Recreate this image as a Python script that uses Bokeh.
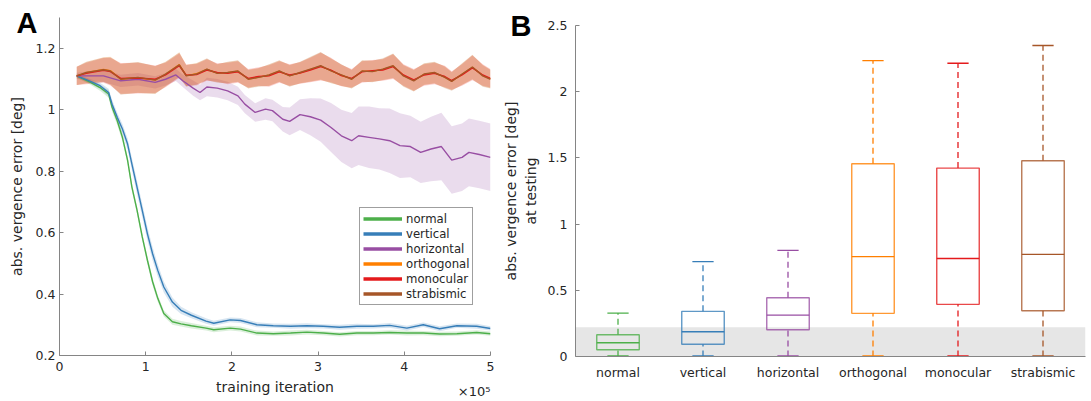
from bokeh.plotting import figure
from bokeh.layouts import row
from bokeh.models import (Legend, LegendItem, FixedTicker, LinearAxis, BoxAnnotation,
                          ColumnDataSource, Range1d)
from bokeh.transform import dodge
from bokeh.embed import file_html
from bokeh.resources import INLINE

# ---------------- Panel A data (training iteration in units of 1e5) ----------------
series_names = ["normal", "vertical", "horizontal", "orthogonal", "monocular", "strabismic"]
series_colors = ["#4daf4a", "#377eb8", "#984ea3", "#ff7f00", "#e41a1c", "#a65628"]

drop_x = [0.20, 0.36, 0.47, 0.57, 0.61, 0.67, 0.73, 0.79, 0.84, 0.90,
          0.96, 1.02, 1.08, 1.14, 1.21, 1.31, 1.41, 1.53, 1.70, 1.79,
          1.98, 2.10, 2.29, 2.48, 2.68, 2.87, 3.06, 3.25, 3.45, 3.64,
          3.83, 4.03, 4.22, 4.41, 4.61, 4.84, 5.00]
normal_y = [1.110, 1.089, 1.072, 1.051, 1.008, 0.964, 0.910, 0.835, 0.748, 0.672,
            0.586, 0.510, 0.440, 0.386, 0.337, 0.310, 0.303, 0.297, 0.289, 0.284,
            0.289, 0.286, 0.273, 0.271, 0.273, 0.276, 0.273, 0.269, 0.273, 0.273,
            0.275, 0.273, 0.273, 0.270, 0.271, 0.275, 0.271]
normal_sd = [0.006, 0.008, 0.010, 0.012, 0.014, 0.014, 0.013, 0.012, 0.012, 0.012,
             0.012, 0.012, 0.012, 0.011, 0.010, 0.010, 0.009, 0.009, 0.008, 0.008,
             0.008, 0.008, 0.008, 0.007, 0.008, 0.008, 0.007, 0.007, 0.007, 0.007,
             0.007, 0.008, 0.007, 0.007, 0.007, 0.007, 0.007]
vertical_y = [1.110, 1.092, 1.078, 1.056, 1.018, 0.975, 0.937, 0.888, 0.823, 0.747,
              0.672, 0.596, 0.531, 0.477, 0.423, 0.374, 0.347, 0.331, 0.312, 0.305,
              0.316, 0.314, 0.300, 0.297, 0.295, 0.297, 0.295, 0.292, 0.295, 0.295,
              0.298, 0.289, 0.300, 0.287, 0.297, 0.295, 0.288]
vertical_sd = [0.006, 0.008, 0.010, 0.012, 0.014, 0.015, 0.016, 0.018, 0.020, 0.022,
               0.022, 0.022, 0.022, 0.020, 0.018, 0.015, 0.012, 0.010, 0.009, 0.008,
               0.008, 0.008, 0.008, 0.007, 0.008, 0.008, 0.007, 0.008, 0.008, 0.007,
               0.008, 0.008, 0.007, 0.008, 0.007, 0.008, 0.007]

horiz_x = [0.20, 0.51, 0.71, 0.91, 1.11, 1.23, 1.35, 1.43, 1.55, 1.63,
           1.71, 1.83, 1.95, 2.07, 2.15, 2.27, 2.39, 2.47, 2.59, 2.67,
           2.79, 2.91, 3.03, 3.15, 3.27, 3.39, 3.47, 3.59, 3.71, 3.83,
           3.95, 4.07, 4.19, 4.31, 4.43, 4.55, 4.67, 4.75, 4.87, 5.00]
horizontal_y = [1.110, 1.110, 1.094, 1.099, 1.089, 1.099, 1.113, 1.094, 1.070, 1.056,
                1.074, 1.070, 1.061, 1.045, 1.018, 0.991, 1.002, 0.997, 0.969, 0.962,
                0.984, 0.977, 0.966, 0.942, 0.915, 0.899, 0.915, 0.910, 0.905, 0.899,
                0.883, 0.880, 0.861, 0.872, 0.880, 0.836, 0.845, 0.861, 0.854, 0.845]
horizontal_sd = [0.010, 0.020, 0.020, 0.020, 0.020, 0.020, 0.020, 0.020, 0.025, 0.025,
                 0.030, 0.030, 0.030, 0.030, 0.030, 0.030, 0.035, 0.035, 0.040, 0.045,
                 0.050, 0.060, 0.070, 0.080, 0.085, 0.090, 0.095, 0.100, 0.100, 0.105,
                 0.105, 0.100, 0.100, 0.105, 0.110, 0.110, 0.110, 0.110, 0.110, 0.110]

flat_x = [0.20, 0.31, 0.51, 0.59, 0.71, 0.91, 1.11, 1.23, 1.39, 1.47,
          1.59, 1.71, 1.83, 1.95, 2.07, 2.19, 2.31, 2.43, 2.55, 2.67,
          2.79, 2.91, 3.03, 3.15, 3.27, 3.39, 3.51, 3.63, 3.75, 3.87,
          3.99, 4.11, 4.23, 4.35, 4.47, 4.55, 4.67, 4.79, 4.91, 5.00]
orthogonal_y = [1.110, 1.120, 1.131, 1.127, 1.100, 1.104, 1.097, 1.115, 1.147, 1.111,
                1.117, 1.131, 1.119, 1.120, 1.125, 1.100, 1.106, 1.112, 1.125, 1.111,
                1.120, 1.131, 1.142, 1.127, 1.112, 1.100, 1.125, 1.125, 1.131, 1.142,
                1.111, 1.095, 1.115, 1.120, 1.106, 1.093, 1.115, 1.138, 1.111, 1.100]
monocular_y = [1.110, 1.118, 1.128, 1.124, 1.102, 1.103, 1.099, 1.113, 1.143, 1.112,
               1.114, 1.129, 1.121, 1.118, 1.123, 1.102, 1.108, 1.110, 1.123, 1.113,
               1.119, 1.129, 1.140, 1.129, 1.111, 1.102, 1.123, 1.127, 1.129, 1.140,
               1.113, 1.097, 1.113, 1.118, 1.108, 1.095, 1.113, 1.136, 1.113, 1.102]
strabismic_y = [1.110, 1.121, 1.130, 1.126, 1.099, 1.105, 1.096, 1.116, 1.146, 1.110,
                1.116, 1.132, 1.118, 1.121, 1.126, 1.099, 1.105, 1.113, 1.126, 1.110,
                1.121, 1.132, 1.143, 1.126, 1.113, 1.099, 1.126, 1.124, 1.132, 1.143,
                1.110, 1.094, 1.116, 1.121, 1.105, 1.092, 1.116, 1.139, 1.110, 1.099]
flat_sd = [0.030, 0.035, 0.040, 0.045, 0.050, 0.050, 0.045, 0.040, 0.040, 0.035,
           0.035, 0.035, 0.030, 0.035, 0.035, 0.030, 0.030, 0.035, 0.035, 0.035,
           0.035, 0.040, 0.045, 0.040, 0.035, 0.030, 0.035, 0.035, 0.035, 0.040,
           0.035, 0.035, 0.035, 0.035, 0.035, 0.030, 0.035, 0.040, 0.035, 0.030]

a_xticks = [0, 1, 2, 3, 4, 5]
a_xtick_labels = ["0", "1", "2", "3", "4", "5"]
a_yticks = [0.2, 0.4, 0.6, 0.8, 1.0, 1.2]
a_ytick_labels = ["0.2", "0.4", "0.6", "0.8", "1", "1.2"]
a_multiplier = "×10⁵"

# ---------------- Panel B data ----------------
categories = ["normal", "vertical", "horizontal", "orthogonal", "monocular", "strabismic"]
whisker_low = [0.0, 0.0, 0.0, 0.0, 0.0, 0.0]
quart1 = [0.051, 0.093, 0.202, 0.326, 0.394, 0.346]
median = [0.104, 0.187, 0.313, 0.755, 0.740, 0.772]
quart3 = [0.164, 0.341, 0.444, 1.456, 1.423, 1.478]
whisker_high = [0.328, 0.717, 0.802, 2.235, 2.215, 2.349]
threshold = 0.22
b_yticks = [0, 0.5, 1, 1.5, 2, 2.5]
b_ytick_labels = ["0", "0.5", "1", "1.5", "2", "2.5"]

FONT = "DejaVu Sans"
TXT = "#262626"
AXC = "#858585"


def style_axis(ax, ticks_in=True):
    ax.axis_line_color = AXC
    ax.axis_line_width = 1
    ax.major_tick_line_color = AXC
    ax.major_tick_in = 4 if ticks_in else 0
    ax.major_tick_out = 0
    ax.minor_tick_line_color = None
    ax.major_label_text_font = FONT
    ax.major_label_text_font_size = "12.5px"
    ax.major_label_text_color = TXT
    ax.axis_label_text_font = FONT
    ax.axis_label_text_font_size = "14px"
    ax.axis_label_text_font_style = "normal"
    ax.axis_label_text_color = TXT


def text_axis(text, at, standoff, font, size, style, color):
    """An axis that carries a single tick label only (panel letters, multiplier)."""
    return LinearAxis(ticker=FixedTicker(ticks=[at]), major_label_overrides={at: text},
                      axis_line_color=None, major_tick_line_color=None,
                      minor_tick_line_color=None, major_tick_in=0, major_tick_out=0,
                      minor_tick_in=0, minor_tick_out=0,
                      major_label_standoff=standoff, major_label_text_font=font,
                      major_label_text_font_size=size, major_label_text_font_style=style,
                      major_label_text_color=color)


# ---------------- Panel A ----------------
pa = figure(width=495, height=401, output_backend="svg", toolbar_location=None, title=None,
            frame_align=False,
            x_range=Range1d(0, 5), y_range=Range1d(0.2, 1.3),
            min_border_left=59, min_border_right=5, min_border_top=17, min_border_bottom=46)
pa.grid.visible = False
pa.outline_line_color = None

data_a = [
    (drop_x, normal_y, normal_sd),
    (drop_x, vertical_y, vertical_sd),
    (horiz_x, horizontal_y, horizontal_sd),
    (flat_x, orthogonal_y, flat_sd),
    (flat_x, monocular_y, flat_sd),
    (flat_x, strabismic_y, flat_sd),
]
for (xs, ys, sd), c in zip(data_a, series_colors):
    lo = [y - s for y, s in zip(ys, sd)]
    hi = [y + s for y, s in zip(ys, sd)]
    pa.varea(x=xs, y1=lo, y2=hi, fill_color=c, fill_alpha=0.2)
for (xs, ys, sd), c in zip(data_a, series_colors):
    pa.line(x=xs, y=ys, line_color=c, line_width=1.4)

nan = float("nan")
items = []
for name, c in zip(series_names, series_colors):
    r = pa.line(x=[nan], y=[nan], line_color=c, line_width=3.5)
    items.append(LegendItem(label=name, renderers=[r]))
leg = Legend(items=items, location=(300, 50), padding=3, spacing=0, margin=0,
             glyph_width=39, glyph_height=15, label_height=15, label_standoff=4,
             label_text_font=FONT, label_text_font_size="11.7px", label_text_color=TXT,
             border_line_color="#404040", border_line_width=1,
             background_fill_color="white", background_fill_alpha=1)
pa.add_layout(leg)

pa.xaxis.ticker = FixedTicker(ticks=a_xticks)
pa.xaxis.major_label_overrides = dict(zip(a_xticks, a_xtick_labels))
pa.yaxis.ticker = FixedTicker(ticks=a_yticks)
pa.yaxis.major_label_overrides = dict(zip(a_yticks, a_ytick_labels))
pa.xaxis.axis_label = "training iteration"
pa.yaxis.axis_label = "abs. vergence error [deg]"
style_axis(pa.xaxis[0])
style_axis(pa.yaxis[0])
pa.xaxis.major_label_standoff = 6
pa.xaxis.axis_label_standoff = 5
pa.yaxis.major_label_standoff = 4
pa.yaxis.axis_label_standoff = 8

# panel letter "A" and the x multiplier, carried by label-only axes
pa.add_layout(text_axis("A", 1.282, -32, "Liberation Sans", "29px", "bold", "black"), "left")
pa.add_layout(text_axis(a_multiplier, 4.81, -14, FONT, "13px", "normal", TXT), "below")

# ---------------- Panel B ----------------
pb = figure(width=596, height=401, output_backend="svg", toolbar_location=None, title=None,
            frame_align=False,
            x_range=Range1d(0.5, len(categories) + 0.5), y_range=Range1d(0, 2.5),
            min_border_left=80, min_border_right=6, min_border_top=25, min_border_bottom=45)
pb.grid.visible = False
pb.outline_line_color = None

pb.add_layout(BoxAnnotation(bottom=0, top=threshold, fill_color="#e6e6e6", fill_alpha=1,
                            line_color=None, level="underlay"))

positions = list(range(1, len(categories) + 1))
src = ColumnDataSource(dict(x=positions, lo=whisker_low, q1=quart1, med=median,
                            q3=quart3, hi=whisker_high, color=series_colors))
pb.segment(x0="x", y0="q3", x1="x", y1="hi", line_color="color", line_width=1.3,
           line_dash="6 4", source=src)
pb.segment(x0="x", y0="lo", x1="x", y1="q1", line_color="color", line_width=1.3,
           line_dash="6 4", source=src)
pb.segment(x0=dodge("x", -0.125), y0="hi", x1=dodge("x", 0.125), y1="hi",
           line_color="color", line_width=1.3, source=src)
pb.segment(x0=dodge("x", -0.125), y0="lo", x1=dodge("x", 0.125), y1="lo",
           line_color="color", line_width=2.5, source=src)
pb.vbar(x="x", width=0.5, bottom="q1", top="q3", fill_color=None, line_color="color",
        line_width=1.4, line_alpha=0.8, source=src)
pb.segment(x0=dodge("x", -0.25), y0="med", x1=dodge("x", 0.25), y1="med",
           line_color="color", line_width=1.3, source=src)

pb.xaxis.ticker = FixedTicker(ticks=positions)
pb.xaxis.major_label_overrides = dict(zip(positions, categories))
pb.yaxis.ticker = FixedTicker(ticks=b_yticks)
pb.yaxis.major_label_overrides = dict(zip(b_yticks, b_ytick_labels))
pb.yaxis.axis_label = "abs. vergence error [deg]\nat testing"
style_axis(pb.xaxis[0], ticks_in=False)
style_axis(pb.yaxis[0])
pb.xaxis.major_label_standoff = 8
pb.yaxis.major_label_standoff = 8
pb.yaxis.axis_label_standoff = 6

pb.add_layout(text_axis("B", 2.5, -31, "Liberation Sans", "29px", "bold", "black"), "left")

layout = row(pa, pb)
open("out.html", "w").write(file_html(layout, INLINE))
